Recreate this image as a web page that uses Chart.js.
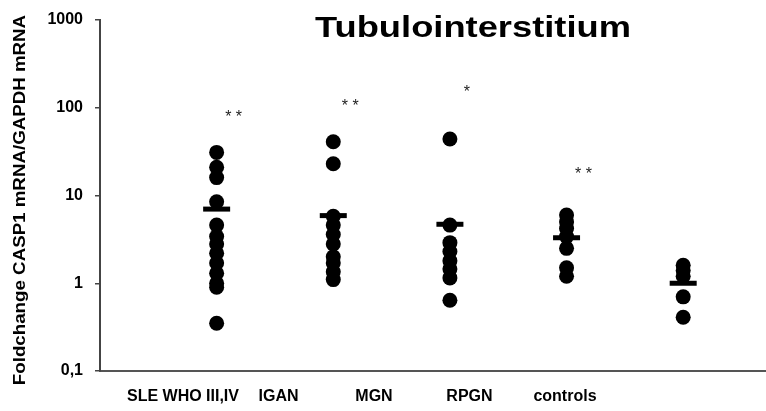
<!DOCTYPE html>
<html>
<head>
<meta charset="utf-8">
<script src="https://cdn.jsdelivr.net/npm/chart.js@4"></script>
<style>
  html, body { margin: 0; padding: 0; background: #fff; }
  #wrap { width: 766px; height: 411px; }
</style>
</head>
<body>
<div id="wrap"><canvas id="chart" width="766" height="411"></canvas></div>
<script>
// groups and values
const groups = ['SLE WHO III,IV', 'IGAN', 'MGN', 'RPGN', 'controls'];
const sleVals = [31, 21, 16, 8.5, 4.6, 3.4, 2.8, 2.2, 1.7, 1.3, 1.0, 0.9, 0.35];
const iganVals = [41, 23, 5.8, 4.6, 3.6, 2.8, 2.0, 1.7, 1.35, 1.1];
const mgnVals = [44, 4.6, 2.9, 2.3, 1.8, 1.45, 1.15, 0.64];
const rpgnVals = [6.0, 5.0, 4.2, 3.4, 2.5, 1.5, 1.2];
const ctrlVals = [1.6, 1.4, 1.2, 0.7, 0.41];
const meanVals = [7.0, 5.9, 4.7, 3.3, 1.0];
const starMarks = ['* *', '* *', '*', '* *', ''];
const starLevels = [81, 108, 155, 18, null];
const tickVals = [0.1, 1, 10, 100, 1000];
const tickText = ['0,1', '1', '10', '100', '1000'];
const yTitle = 'Foldchange CASP1 mRNA/GAPDH mRNA';

const allVals = [sleVals, iganVals, mgnVals, rpgnVals, ctrlVals];
const FONT = "'Liberation Sans', Arial, sans-serif";

const datasets = allVals.map((vals, i) => ({
  label: groups[i],
  xAxisID: 'xg',
  data: vals.map(v => ({ x: i + 1, y: v })),
  pointRadius: 7.5,
  pointHoverRadius: 7.5,
  backgroundColor: '#000',
  borderWidth: 0
}));

datasets.push({
  label: 'mean',
  xAxisID: 'xg',
  data: meanVals.map((v, i) => ({ x: i + 1, y: v })),
  pointStyle: 'line',
  pointRadius: 13.5,
  pointHoverRadius: 13.5,
  borderColor: '#000',
  borderWidth: 5
});

// title, y title (stretched like the original) and significance stars
const extras = {
  id: 'extras',
  afterDatasetsDraw(chart) {
    const ctx = chart.ctx;
    const xs = chart.scales.xg, ys = chart.scales.y;
    ctx.save();
    ctx.fillStyle = '#000';
    ctx.font = 'bold 30px ' + FONT;
    ctx.textAlign = 'center';
    ctx.textBaseline = 'alphabetic';
    ctx.translate(473, 37);
    ctx.scale(1.21, 1);
    ctx.fillText('Tubulointerstitium', 0, 0);
    ctx.restore();

    ctx.save();
    ctx.fillStyle = '#000';
    ctx.font = 'bold 16px ' + FONT;
    ctx.textAlign = 'center';
    ctx.textBaseline = 'alphabetic';
    ctx.translate(25, 200);
    ctx.rotate(-Math.PI / 2);
    ctx.scale(1.17, 1);
    ctx.fillText(yTitle, 0, 0);
    ctx.restore();

    ctx.save();
    ctx.fillStyle = '#222';
    ctx.font = '16px ' + FONT;
    ctx.textAlign = 'center';
    ctx.textBaseline = 'alphabetic';
    starMarks.forEach((m, i) => {
      if (!m) return;
      const px = xs.getPixelForValue(i + 1) + 17;
      const py = ys.getPixelForValue(starLevels[i]) + 6;
      ctx.fillText(m, px, py);
    });
    ctx.restore();
  }
};

new Chart(document.getElementById('chart'), {
  type: 'scatter',
  data: { datasets },
  options: {
    responsive: false,
    animation: false,
    devicePixelRatio: 1,
    layout: { autoPadding: false, padding: { top: 20, right: 0, bottom: 0, left: 0 } },
    plugins: {
      legend: { display: false },
      tooltip: { enabled: false }
    },
    scales: {
      xg: {
        type: 'linear',
        display: false,
        min: 0,
        max: 5.71
      },
      x: {
        type: 'linear',
        position: 'bottom',
        min: 0.131,
        max: 7.105,
        afterBuildTicks: s => { s.ticks = groups.map((g, i) => ({ value: i + 1 })); },
        afterFit: s => { s.height = 40; s.paddingLeft = 0; s.paddingRight = 0; },
        grid: { display: false, drawTicks: false },
        border: { display: true, color: '#555', width: 2 },
        ticks: {
          autoSkip: false,
          maxRotation: 0,
          padding: 16,
          color: '#000',
          font: { family: FONT, size: 16, weight: 'bold' },
          callback: v => groups[v - 1]
        }
      },
      y: {
        type: 'logarithmic',
        min: 0.1,
        max: 1000,
        afterBuildTicks: s => { s.ticks = tickVals.map(v => ({ value: v })); },
        afterFit: s => { s.width = 100; s.paddingTop = 0; s.paddingBottom = 0; },
        grid: { drawOnChartArea: false, drawTicks: true, tickLength: 5, color: '#444', lineWidth: 1.5 },
        border: { display: true, color: '#444', width: 2 },
        ticks: {
          autoSkip: false,
          padding: 12,
          color: '#000',
          font: { family: FONT, size: 16, weight: 'bold' },
          callback: v => tickText[tickVals.indexOf(v)]
        }
      }
    }
  },
  plugins: [extras]
});
</script>
</body>
</html>
